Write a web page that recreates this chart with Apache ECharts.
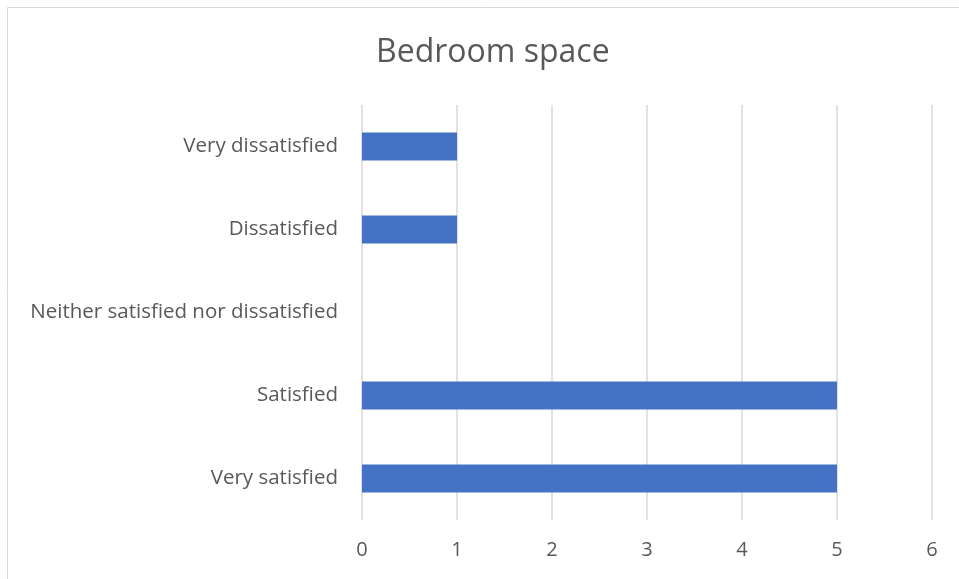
<!DOCTYPE html>
<html><head><meta charset="utf-8">
<script src="https://cdn.jsdelivr.net/npm/echarts@6/dist/echarts.min.js"></script>
<style>html,body{margin:0;padding:0;background:#fff}#c{width:959px;height:579px}</style>
</head><body><div id="c"></div>
<script>
const categories = ["Very satisfied", "Satisfied", "Neither satisfied nor dissatisfied", "Dissatisfied", "Very dissatisfied"];
const values = [5, 5, 0, 1, 1];
const xTicks = [0, 1, 2, 3, 4, 5, 6];
const title = "Bedroom space";

const chart = echarts.init(document.getElementById('c'), null, {renderer: 'canvas'});
const font = "'Open Sans', 'Liberation Sans', sans-serif";
chart.setOption({
  animation: false,
  backgroundColor: '#fff',
  graphic: [{
    type: 'rect', shape: {x: 7.5, y: 7.5, width: 1000, height: 700},
    style: {fill: 'none', stroke: '#d9d9d9', lineWidth: 1}, silent: true
  }],
  title: {
    text: title, left: 371, top: 32,
    textStyle: {fontFamily: font, fontSize: 32, fontWeight: 'normal', color: '#595959'}
  },
  grid: {left: 362, right: 27, top: 105, bottom: 59, containLabel: false},
  xAxis: {
    type: 'value', min: xTicks[0], max: xTicks[xTicks.length - 1], interval: 1,
    axisLine: {show: false}, axisTick: {show: false},
    splitLine: {show: true, lineStyle: {color: '#d9d9d9', width: 1.5}},
    axisLabel: {fontFamily: font, fontSize: 20, color: '#595959', margin: 20}
  },
  yAxis: {
    type: 'category', data: categories,
    axisLine: {show: false}, axisTick: {show: false},
    axisLabel: {fontFamily: font, fontSize: 20.5, color: '#595959', margin: 24}
  },
  series: [{
    type: 'bar', data: values, barWidth: 28,
    itemStyle: {color: '#4472c4'}
  }]
});
</script></body></html>
